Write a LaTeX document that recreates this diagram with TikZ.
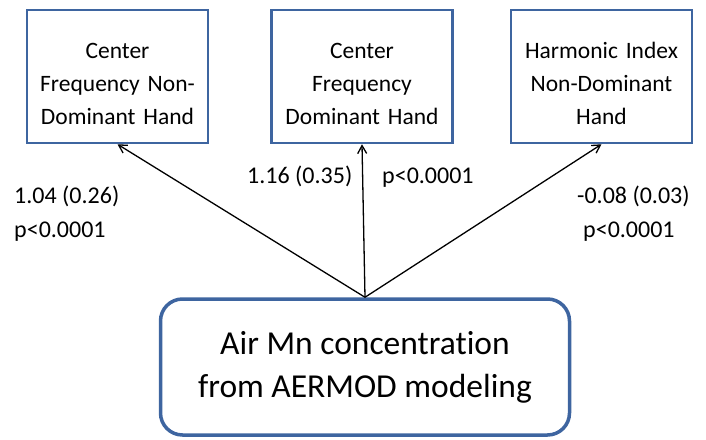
\documentclass[tikz,border=0pt]{standalone}
\usepackage{fontspec}
\setmainfont{Carlito}[Ligatures=NoCommon]
\usetikzlibrary{arrows.meta}
\definecolor{boxblue}{RGB}{62,101,160}
\tikzset{outbox/.style={draw=boxblue,line width=2.5pt,align=center,minimum width=181pt,
 minimum height=133pt,text width=170pt,font=\fontsize{23.5}{33}\selectfont,inner sep=0pt,
 execute at begin node={\rule{0pt}{30pt}}},
 srcbox/.style={draw=boxblue,line width=3.5pt,rounded corners=22pt,align=center,
 minimum width=409pt,minimum height=136pt,font=\fontsize{33.5}{43}\selectfont},
 arr/.style={-{Straight Barb[length=8pt,width=9pt]},line width=1.3pt},
 est/.style={anchor=base west,font=\fontsize{24}{24}\selectfont,inner sep=0pt}}

\begin{document}
\begin{tikzpicture}[x=1pt,y=-1pt]
\useasboundingbox (0,0) rectangle (706,439);
\node[outbox] (cfn) at (117.5,76.5) {Center\\Frequency Non-\\Dominant Hand};
\node[outbox] (cfd) at (362,76.5) {Center\\Frequency\\Dominant Hand};
\node[outbox] (hin) at (601.5,76.5) {Harmonic Index\\Non-Dominant\\Hand};
\node[srcbox] (air) at (365,367) {Air Mn concentration\\from AERMOD modeling};
\draw[arr] (air.north)--(cfn.south);
\draw[arr] (air.north)--(cfd.south);
\draw[arr] (air.north)--(hin.south);
\node[est] (cfnb) at (14,203) {1.04 (0.26)};
\node[est] (cfnp) at (14,237) {p<0.0001};
\node[est] (cfdb) at (247,183) {1.16 (0.35)};
\node[est] (cfdp) at (382,183) {p<0.0001};
\node[est] (hinb) at (577,203) {-0.08 (0.03)};
\node[est] (hinp) at (583,237) {p<0.0001};
\end{tikzpicture}
\end{document}
